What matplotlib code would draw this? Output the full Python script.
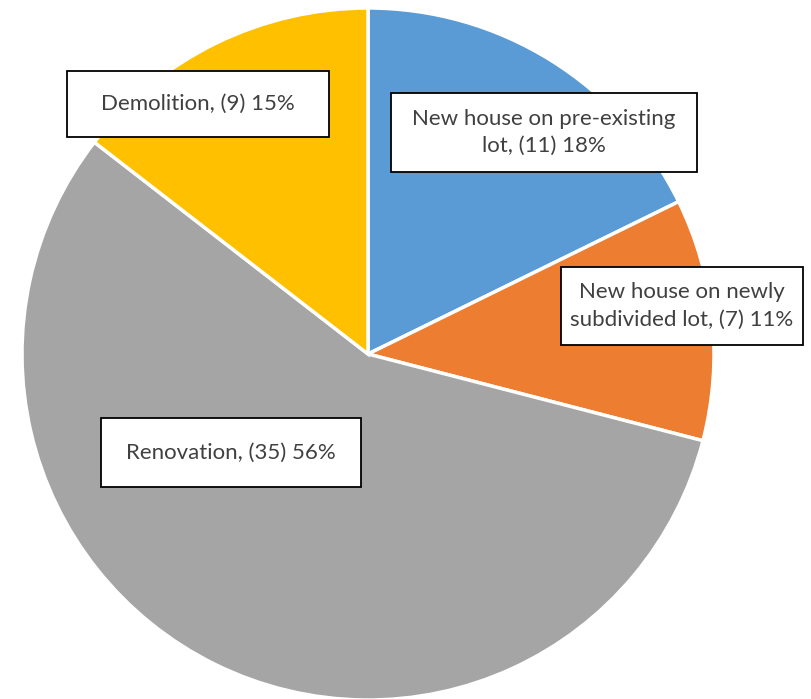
import matplotlib
matplotlib.use("Agg")
import matplotlib.pyplot as plt
from matplotlib.patches import Rectangle

categories = ["New house on pre-existing\nlot", "New house on newly\nsubdivided lot", "Renovation", "Demolition"]
counts = [11, 7, 35, 9]
percents = [18, 11, 56, 15]
colors = ["#5B9BD5", "#ED7D31", "#A5A5A5", "#FFC000"]

W, H = 812, 699
fig = plt.figure(figsize=(W / 100, H / 100), dpi=100)
ax = fig.add_axes([0, 0, 1, 1])

cx, cy, r = 368, 354, 346
ax.pie(counts, colors=colors, startangle=90, counterclock=False,
       center=(cx, -cy), radius=r,
       wedgeprops=dict(edgecolor="white", linewidth=2.5))
ax.set_xlim(0, W)
ax.set_ylim(-H, 0)
ax.set_aspect("equal")
ax.axis("off")

# label boxes: (x0, y0, w, h) in pixel coords (top-left origin)
boxes = [(391, 93, 306, 79), (561, 267, 242, 78), (101, 418, 260, 69), (67, 71, 262, 66)]
for (x0, y0, bw, bh), cat, n, pc in zip(boxes, categories, counts, percents):
    ax.add_patch(Rectangle((x0, -(y0 + bh)), bw, bh, facecolor="white",
                           edgecolor="black", linewidth=1.3, zorder=5))
    ax.text(x0 + bw / 2, -(y0 + bh / 2), f"{cat}, ({n}) {pc}%", ha="center", va="center",
            fontsize=16, color="#404040", family="Lato", zorder=6, linespacing=1.45)

fig.savefig("out.png", dpi=100)
